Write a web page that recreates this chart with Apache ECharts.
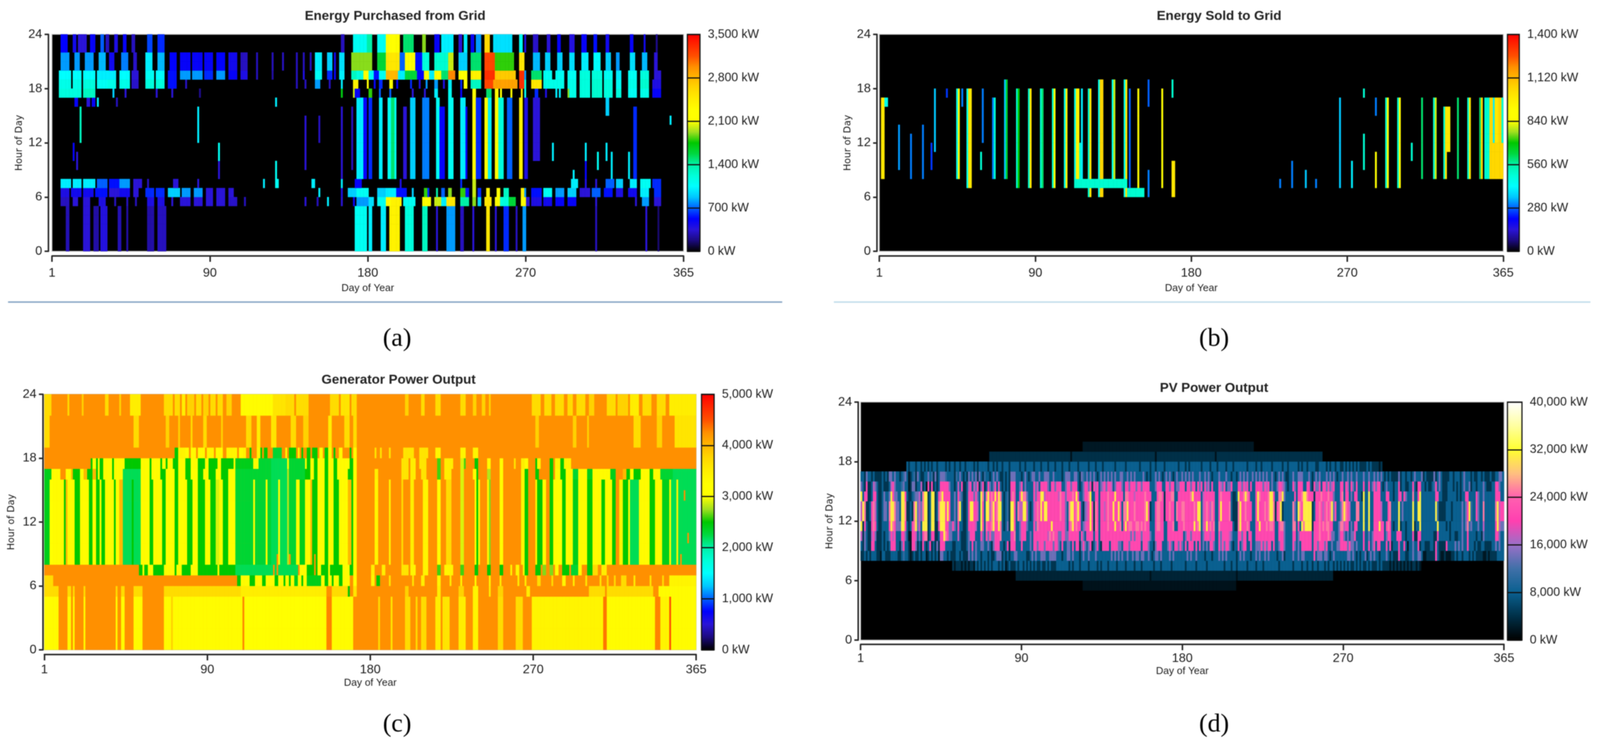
<!DOCTYPE html>
<html>
<head>
<meta charset="UTF-8">
<title>Energy heat maps</title>
<script src="https://cdn.jsdelivr.net/npm/echarts@6/dist/echarts.min.js"></script>
<style>
body { margin: 0; padding: 0; background: #fff; overflow: hidden; }
#main { width: 100%; height: 1927px; filter: blur(1px); }
</style>
</head>
<body>
<div id="main"></div>
<script>
// axis labels
var dayTickLabels = ['1', '90', '180', '270', '365'];
var days = [];
for (var n = 1; n <= 365; n++) days.push(n);
var hours = [];
for (var m = 0; m < 24; m++) hours.push(m);

// colour ramps
var rainbowRamp = ['#000000','#1c0a80','#2a14d8','#0000ff','#0060ff','#00c8ff','#00ffff','#00ffd8','#00f0a8','#00d840','#00c800','#a0e020','#ffff00','#ffff00','#ffee00','#ffd800','#ffb800','#ff9000','#ff5000','#ff2800','#ff0000'];
var pvRamp = ['#000000','#003048','#0a6090','#4070a8','#9a70c8','#ff40b0','#ff60b0','#ffc080','#ffff30','#ffffa0','#ffffff'];

// Energy purchased from grid: [first day, last day, kW] for each block of hours
var boughtH22 = [[6,9,520],[13,14,450],[16,20,350],[23,25,500],[29,30,700],[32,33,300],[37,38,400],[42,43,500],[47,48,300],[56,58,650],[62,65,600],[168,169,300],[175,182,1100],
  [183,185,1400],[189,193,1100],[194,201,2200],[204,209,1500],[215,216,1900],[222,224,500],[226,232,1000],[236,237,350],[239,240,1000],[243,244,500],[246,248,800],[251,253,2600],[256,266,950],[271,272,1100],[274,274,400],[279,281,320],[287,288,350],[293,294,500],[300,302,380],[307,309,500],[314,315,550],[321,322,450],[335,336,500],[343,343,450],[350,350,200]];
var boughtH20 = [[6,10,800],[14,16,800],[20,24,800],[28,31,850],[34,36,450],[41,44,750],[48,49,320],[55,58,1000],[62,65,850],[69,72,520],[75,80,500],[82,87,500],[89,93,500],[96,100,520],[103,107,450],[110,113,300],[119,119,300],[128,128,300],[134,134,300],[142,142,300],[146,146,300],[150,150,300],[153,156,1000],[160,162,900],[164,164,450],[167,169,950],[174,182,1900],
  [183,185,1900],[189,193,1600],[194,201,2500],[202,204,700],[205,210,2200],[211,214,550],[215,218,1200],[222,229,1250],[230,232,2000],[236,240,900],[243,248,1500],[251,256,3200],[257,267,1800],[271,273,2500],[279,282,850],[286,288,900],[293,295,900],[300,302,950],[307,310,1000],[314,317,1050],[321,323,900],[327,328,800],[335,337,950],[342,344,850],[349,350,350]];
var boughtH19 = [[5,11,1050],[13,17,1050],[19,25,1050],[27,32,1000],[33,37,1000],[40,45,1050],[47,50,350],[55,59,1100],[61,65,1050],[68,72,550],[75,80,800],[82,87,800],[89,93,600],[96,100,800],[103,107,500],[110,113,400],[119,119,300],[128,128,250],[142,142,300],[146,146,400],[153,156,1100],[160,162,600],[164,164,500],[167,169,1000],[174,177,1300],[177,180,1200],[181,183,2200],
  [184,186,1100],[187,189,550],[190,193,1100],[194,200,2800],[201,204,1000],[205,211,1600],[212,215,500],[216,218,2200],[219,221,1000],[222,225,2200],[226,229,1500],[230,233,3000],[236,240,2200],[243,248,2400],[251,256,3300],[257,268,2700],[271,273,3300],[274,274,800],[278,283,1500],[285,289,1100],[292,296,1100],[299,303,1100],[306,311,1200],[313,318,1200],[320,324,1100],[327,329,1000],[334,338,1100],[341,345,1200],[349,352,350]];
var boughtH18 = [[5,11,1150],[13,17,1150],[19,25,1200],[27,32,1100],[33,37,1150],[40,45,1150],[47,50,320],[55,59,1200],[61,65,1200],[68,72,550],[78,78,300],[142,142,300],[147,147,300],[153,155,800],[161,161,300],[168,168,1000],[175,177,2400],
  [183,183,2200],[187,187,500],[190,191,600],[196,197,2300],[200,200,500],[208,208,600],[213,213,400],[217,217,800],[222,223,800],[227,227,400],[230,231,1000],[237,237,600],[239,240,2200],[243,248,1300],[251,255,3200],[256,269,2900],[271,273,3300],[274,274,1200],[278,283,2500],[285,296,1150],[299,303,1150],[306,311,1200],[313,318,1250],[320,324,1200],[327,329,1100],[334,338,1150],[341,345,1250],[348,352,400]];
var boughtH17 = [[5,11,1200],[12,17,1200],[19,25,1300],[36,36,900],[43,43,350],[61,61,350],[70,70,350],[86,86,200],[168,168,1700],[175,175,2000],[176,178,500],
  [184,185,1800],[190,190,700],[196,196,700],[209,209,350],[216,216,350],[222,223,1000],[230,231,1100],[237,237,500],[244,245,2300],[252,254,1500],[257,258,2300],[260,260,2100],[266,266,2200],[272,272,2500],[274,274,1100],[280,281,600],[286,286,400],[292,292,1000],[294,294,1000],[299,299,1900],[300,303,1150],[306,311,1200],[313,318,1250],[320,324,1200],[327,329,1200],[334,338,1100],[341,345,1150],[348,352,500]];
var boughtH7 = [[6,11,1000],[13,17,1000],[19,25,1000],[27,32,700],[34,39,550],[40,45,800],[48,52,350],[56,56,300],[71,73,350],[85,85,350],[123,123,1000],[130,131,1100],[151,152,1000],[168,168,1000],[176,179,500],
  [202,202,400],[237,237,600],[244,245,2000],[301,304,1000],[309,309,400],[315,315,350],[321,325,700],[327,330,900],[335,338,1000],[341,346,1100],[348,352,600]];
var boughtH6 = [[6,10,400],[12,17,450],[19,24,450],[26,32,550],[34,39,350],[40,45,450],[48,50,350],[55,59,600],[61,65,600],[68,74,900],[76,80,800],[83,87,800],[90,93,350],[96,100,350],[103,105,350],[155,155,1000],[168,168,400],[172,176,900],[177,183,1100],
  [189,193,900],[194,199,1000],[200,205,550],[209,209,900],[216,217,1800],[218,218,600],[223,223,1400],[226,227,700],[230,231,1900],[237,239,1800],[240,241,550],[244,245,2000],[247,248,600],[252,253,2400],[258,259,2300],[262,264,1300],[272,273,2400],[274,274,800],[278,283,550],[285,289,1100],[292,296,800],[299,303,900],[306,311,350],[313,317,700],[320,324,550],[327,330,400],[334,338,450],[341,345,1000],[349,352,600]];
var boughtH5 = [[6,10,300],[13,15,350],[19,22,350],[28,31,400],[37,37,300],[44,44,300],[49,49,300],[56,59,400],[62,65,400],[70,70,350],[75,80,350],[83,87,350],[90,93,350],[96,100,350],[103,107,320],[112,112,300],[147,147,350],[154,154,300],[160,160,1000],[168,168,350],[175,175,500],[177,183,800],
  [184,186,950],[189,193,1100],[194,196,2300],[197,202,2400],[204,210,1100],[215,219,2200],[222,225,2000],[226,228,1000],[229,233,2500],[237,241,1400],[244,245,1900],[247,248,900],[251,254,2500],[257,259,2300],[260,264,1200],[265,268,1600],[272,274,2100],[275,276,350],[278,283,400],[285,289,450],[292,296,500],[299,303,500],[315,315,350],[338,338,350],[342,345,800],[349,352,350]];
var boughtH0 = [[9,10,280],[19,22,350],[25,27,250],[29,32,380],[39,40,280],[44,44,250],[56,59,250],[62,66,300],[176,182,1100],
  [184,185,1000],[191,193,1000],[196,201,2400],[205,209,1200],[215,217,1300],[223,223,350],[229,233,800],[237,238,300],[244,244,350],[252,253,2500],[257,257,350],[262,264,600],[269,269,300],[273,274,800],[315,315,300],[344,344,350],[351,351,150]];
// midday stripes and the short marks: [first day, last day, from hour, to hour, kW]
var boughtMarks = [[14,15,16,17,500],[17,17,12,16,1300],[13,13,10,12,500],[15,15,9,11,350],[21,22,16,17,350],[24,25,16,17,500],[27,27,16,17,1000],[38,38,16,17,300],[85,85,12,16,1000],[97,97,9,12,1100],[97,97,8,10,350],[130,130,16,17,1000],[130,130,7,10,1100],[147,147,9,15,350],[155,155,12,15,300],[168,168,8,16,350],[174,174,9,16,300],[177,180,8,17,1000],[181,182,8,17,500],
  [184,185,8,17,600],[190,191,8,17,1000],[195,196,8,17,1100],[197,198,8,17,1500],[199,199,8,17,1100],[204,205,8,16,350],[208,210,8,17,900],[215,218,8,17,750],[223,224,8,17,1100],[225,227,8,16,500],[230,232,8,17,1100],[237,239,8,17,1000],[240,240,8,16,500],[244,245,8,17,2100],[246,248,8,17,600],[251,252,8,17,2300],[253,254,8,17,1000],[257,258,8,17,2200],[259,261,8,17,1200],[264,266,8,17,700],[271,272,8,17,2400],[279,282,10,17,350],[274,275,8,17,400],
  [290,290,10,12,1000],[309,309,10,12,1000],[321,321,10,12,1000],[316,316,9,11,1100],[324,324,8,11,1000],[334,334,8,11,1000],[337,338,8,16,600],[321,322,15,17,900],[358,358,14,15,1000],[309,309,8,10,500],[302,302,8,9,1000]];

// Energy sold to grid: [first day, last day, from hour, to hour, kW]
var soldStripes = [[2,3,8,17,1000],[4,5,16,17,450],[12,12,9,14,320],[19,19,8,13,300],[26,26,8,14,300],[31,31,9,12,250],[33,33,11,18,350],[40,40,17,18,250],
  [46,46,8,18,450],[47,47,8,18,900],[49,49,16,18,300],[52,52,7,18,450],[53,54,7,18,1000],[60,60,9,11,500],[61,61,12,18,300],[67,67,8,17,300],[68,68,8,17,500],
  [74,74,8,19,350],[75,75,8,19,650],[81,81,7,18,500],[82,82,7,18,700],[88,88,7,18,500],[89,89,7,18,1000],[95,95,7,18,500],[96,96,7,18,600],[102,102,7,18,500],[103,103,7,18,900],[109,109,7,18,450],[110,110,7,18,950],
  [115,115,7,18,450],[116,117,7,18,950],[118,118,7,12,500],[119,119,7,18,400],[123,123,6,18,500],[124,124,6,18,1000],[129,129,6,19,450],[130,131,6,19,1050],[137,137,7,19,450],[138,138,7,19,800],[144,144,6,19,450],[145,145,6,19,1000],[147,147,7,18,280],[152,152,6,18,900],[158,158,16,19,280],[158,158,6,9,300],[166,166,7,18,900],[172,172,17,19,500],[172,173,6,10,1000],[115,145,7,8,500],[146,155,6,7,500],
  [235,235,7,8,300],[242,242,7,10,300],[250,250,7,9,350],[256,256,7,8,300],[270,270,7,17,350],[277,277,7,10,400],[284,284,9,13,500],[284,284,17,18,500],[291,291,7,11,850],[291,291,15,17,300],[297,297,7,17,500],[298,298,7,17,850],[304,304,7,17,500],[305,305,7,17,850],[312,312,10,12,500],[318,318,8,17,600],[325,325,8,17,500],[326,326,8,17,800],
  [331,331,8,16,500],[332,334,11,16,1000],[332,332,8,11,1000],[339,339,8,17,600],[345,345,8,17,500],[346,346,8,17,1000],[352,352,8,17,600],[353,353,8,17,1050],[355,357,8,17,500],[358,359,8,17,1050],[360,360,12,17,400],[360,362,8,12,1050],[361,363,12,17,1000],[363,365,8,17,1050],[365,365,12,17,500]];

// Generator output: orange base level and [first day, last day, kW] for each block of hours
var genH22 = [[1,4,3700],[14,14,3700],[22,22,3800],[35,36,3700],[43,43,3800],[49,54,3500],[68,72,3700],[74,76,3700],[78,79,3500],[81,84,3800],[86,88,3700],[90,92,3800],[94,96,3700],[98,100,3700],[103,105,3800],[111,128,3300],[129,135,3600],[136,140,3700],[142,148,3700],[161,165,3700],[167,171,3600],[173,175,3700],
  [203,204,3800],[212,213,3700],[220,222,3700],[234,236,3700],[241,242,3800],[246,247,3800],[250,250,3800],[274,278,3700],[281,284,3700],[287,291,3700],[294,296,3700],[299,303,3700],[306,308,3800],[316,320,3700],[322,327,3800],[329,333,3500],[336,340,3700],[344,348,3700],[351,365,3500]];
var genH19 = [[1,3,3700],[51,53,3700],[69,70,3800],[76,76,3800],[83,83,3700],[90,91,3700],[100,100,3800],[114,116,3700],[120,121,3500],[128,130,3600],[139,141,3700],[146,148,3800],[160,161,3500],[169,171,3700],[174,175,3700],
  [276,277,3800],[297,298,3800],[305,305,3800],[331,334,3700],[344,346,3800],[354,365,3600]];
var genH18 = [[74,75,2500],[76,79,3400],[80,81,3300],[83,85,3300],[87,90,3300],[92,95,3400],[97,100,3300],[103,108,3400],[110,111,3300],[112,113,3400],[116,116,2500],[120,121,3400],[122,122,2500],[124,125,2500],[129,133,2300],[138,141,2500],[145,145,2500],[148,149,2500],[151,153,2500],[158,159,2500],[163,163,2500],[166,167,3300],[172,172,2500],[174,175,3300],[136,136,3300],[143,143,3300],[155,156,3300],[160,161,3300],
  [186,186,3600],[189,189,3600],[194,194,3600],[202,207,3600],[211,215,3600],[220,222,3400],[234,236,3400],[241,243,3400]];
var genH17 = [[27,27,2500],[28,29,3300],[30,30,2500],[31,31,3300],[32,33,2500],[34,38,3300],[39,39,2500],[40,45,3300],[46,51,2500],[52,54,2500],[55,59,3300],[60,60,2500],[61,65,3300],[66,66,2500],[67,68,3300],[69,69,2500],[70,72,3300],[73,75,2500],[76,79,3300],[80,82,2500],[83,86,3300],[87,90,2500],[91,92,3300],[93,97,2500],[98,99,3300],[100,106,2500],[107,107,3300],[108,117,2400],[118,120,3300],[121,127,2300],[128,136,2200],[137,137,3300],[138,146,2300],[147,147,3300],[148,149,2500],[150,151,3300],[152,153,2500],[154,157,3300],[158,159,2500],[160,162,3300],[163,164,2500],[165,171,3300],[172,173,2500],[174,175,3300],
  [201,204,3600],[206,208,3500],[211,214,3600],[221,222,2600],[225,229,3500],[234,235,2900],[236,236,2600],[242,243,2500],[249,250,3300],[256,257,3300],[264,264,3600],[268,269,3500],[270,271,3300],[276,276,2500],[277,278,3400],[284,285,2500],[287,289,3400],[290,291,2500],[292,295,3400]];
var genH16 = [[1,4,2400],[5,9,3300],[10,12,4250],[13,15,3300],[16,16,4000],[17,20,2500],[21,22,3300],[23,24,4000],[25,27,2500],[28,29,4000],[30,30,2500],[31,31,3300],[32,33,2500],[34,38,3300],[39,39,2500],[40,44,3300],[45,54,2200],[55,59,3300],[60,60,2500],[61,65,3300],[66,68,2500],[69,73,3000],[74,75,2500],[76,79,3300],[80,82,2500],[83,86,3000],[87,89,2500],[90,92,3300],[93,96,2500],[97,99,3000],[100,103,2500],[104,107,3000],[108,127,2300],[128,136,2200],[137,137,2800],[138,146,2300],[147,149,2500],[150,151,3300],[152,153,2500],[154,157,3300],[158,159,2500],[160,162,3300],[163,164,2500],[165,170,3300],[171,173,2500],[174,175,3300],
  [186,187,3500],[201,204,3600],[206,208,3500],[212,214,3600],[221,222,2600],[225,228,3500],[234,235,2900],[241,242,3300],[243,243,2500],[249,250,2800],[256,257,3300],[268,270,3400],[270,271,2500],[276,277,2500],[284,285,2500],[287,289,3300],[290,292,2500],[293,296,3300],[297,299,2300],[300,304,3300],[305,307,2400],[308,312,3300],[313,317,3300],[318,320,2400],[325,326,4000],[327,328,2500],[329,330,3000],[331,334,2500],[335,339,3300],[340,341,2500],[342,345,3300],[346,352,2300],[353,365,2200]];
var genH8 = [[1,175,3300],[1,3,2400],[4,5,3000],[12,12,2500],[13,13,4000],[18,20,2500],[26,27,2500],[30,31,2500],[33,34,2500],[40,40,2500],[43,44,4000],[45,54,2200],[50,50,2500],[60,61,2500],[62,62,3000],[67,68,2500],[69,72,3000],[74,75,2500],[76,78,3000],[81,83,2500],[84,86,3000],[87,90,2500],[91,93,3000],[94,96,2500],[97,98,2900],[101,103,2500],[104,107,3000],[108,117,2300],[118,118,3000],[119,127,2300],[128,136,2200],[125,125,3000],[132,132,3000],[137,137,2800],[138,141,2300],[142,143,3300],[144,146,2400],[148,148,3300],[150,150,4000],[151,153,2500],[154,157,3300],[158,159,2500],[160,162,3300],[163,165,2500],[166,170,3300],[171,172,4000],[173,173,2500],[174,175,3300],
  [186,187,3400],[194,194,3400],[201,201,3700],[206,207,3500],[213,215,3400],[221,222,3300],[226,228,3700],[234,235,2900],[242,242,3000],[243,243,2500],[244,244,3300],[249,249,3300],[250,250,2700],[256,257,3300],[268,269,3400],[270,271,2500],[276,276,3400],[277,279,2500],[280,281,3300],[284,285,2500],[286,290,3200],[291,292,2500],[293,296,3300],[297,299,2400],[300,304,3300],[305,307,2500],[308,312,3300],[313,314,2500],[315,318,3300],[319,320,2500],[323,324,3400],[325,327,2500],[328,328,3300],[329,333,2200],[334,339,3300],[340,342,2500],[343,346,3300],[347,350,2400],[351,351,3300],[352,354,2200],[355,355,3400],[356,365,2200]];
var genH7 = [[54,55,2500],[56,56,3300],[57,58,2500],[59,61,3300],[62,67,2500],[68,73,3300],[74,74,2500],[75,77,3300],[78,82,2500],[83,86,3300],[87,97,2500],[98,98,3300],[99,107,2500],[108,143,2200],[144,147,3300],[148,153,2500],[154,155,3300],[156,159,2500],[160,160,3300],[161,167,2500],[168,171,3300],[172,173,2500],[174,175,3300],
  [184,185,3500],[190,191,3500],[201,204,3600],[206,208,3400],[213,215,3400],[221,222,2600],[225,229,3400],[234,235,2600],[242,243,2500],[249,250,2500],[256,257,2500],[262,262,3400],[265,266,3400],[269,269,3400],[270,271,2500],[276,278,2500],[280,281,2700],[284,285,2700],[287,288,3300],[291,294,2500],[296,299,2300],[300,301,3300],[305,307,2500],[308,310,3700],[313,315,3500]];
var genH6 = [[1,5,3700],[109,110,2500],[111,115,3300],[116,118,2500],[119,122,3300],[123,124,2500],[125,129,3300],[130,131,2500],[132,134,3300],[135,135,2500],[136,137,3300],[138,138,2500],[139,140,3300],[141,142,2400],[143,144,3300],[145,145,2500],[146,147,3300],[148,155,2400],[156,157,3300],[158,159,2500],[160,161,3300],[162,162,2500],[163,165,3300],[166,167,2500],[168,171,3300],[172,173,2500],[174,175,3300],
  [184,185,3400],[187,188,2500],[194,194,3600],[207,207,3600],[212,213,3500],[221,222,3400],[228,228,3500],[234,234,3400],[242,242,3300],[250,250,3400],[256,256,3500],[266,266,3500],[270,270,3500],[277,278,3700],[285,285,3700],[291,292,3400],[297,297,3500],[304,304,3600],[312,312,3600],[316,316,3700],[320,320,3700],[324,326,3700],[331,331,3500],[340,340,3600],[347,347,3700],[351,365,3400]];
var genH5 = [[1,8,3700],[14,15,3700],[17,17,3700],[23,23,3700],[41,41,3700],[44,45,3700],[51,55,3700],[68,110,3700],[111,158,3500],[162,170,3700],[171,172,2500],[173,175,3600],
  [203,204,3800],[221,222,3500],[233,235,3800],[241,243,3400],[250,250,3500],[255,257,3800],[271,272,3500],[306,314,3700],[316,341,3700],[345,365,3300]];
var genH0 = [[1,8,3300],[14,15,3300],[17,17,3300],[23,23,3300],[41,41,3300],[44,45,3300],[51,55,3300],[68,71,3300],[72,72,3800],[73,111,3300],[112,112,4300],[113,158,3200],[159,161,4300],[162,173,3300],
  [188,188,3700],[195,195,3600],[203,205,3700],[209,209,3700],[212,214,3700],[220,222,3500],[224,227,3600],[233,236,3500],[241,243,3400],[255,257,3700],[265,268,3700],[274,313,3400],[314,315,4350],[316,342,3300],[343,345,4300],[346,350,3400],[351,351,4500],[352,365,3300]];
var genDots = [[131,131,7,9,0],[129,129,7,8,0],[138,138,8,9,0],[143,143,7,8,0],[152,152,7,9,0],[172,173,5,7,0],[359,359,14,15,0],[361,361,10,11,0],[357,357,8,9,0]];

// PV output, one digit per day (day 1 first), digit = level in pvLevels
var pvLevels = [0, 2000, 4500, 8000, 11000, 14000, 17500, 21000, 25000, 31000];
var pvH16 = '3325332322 2232325535 3323453123 4253223353 4252355543 3332435323 2535352532 4332353532 2323255533 3235323553 3533555335 3333235553 3553254353 5353235353 5353533553 3535353333 5323233535 3235353235 335 3535353335 3353532333 5333533233 2353535335 3535353533 5323535322 3353355533 3532353533 3535353233 5335353353 3353353353 5353232322 2252332332 3533352322 2252353222 2332333235 3332322332 322232233553';
var pvH15 = '5327223653 2232223675 3334533125 5233623172 7232377777 5332363722 3673657257 2375357373 2323277733 5735333375 6377775377 5777335775 7773235775 7276735675 7763577753 7757775775 7777333577 7337757735 577 7377577375 7375637333 7657355733 3775767373 3777757673 5335776532 3375377733 7732755737 7575673337 7376375373 3373373575 7732353332 3372332233 7327733232 2347353222 3332323235 3352332333 532223377533';
var pvH14 = '9377223773 2235335975 5339973223 4556389923 9923789777 7335375422 3777575398 3897879798 3234278733 7988533375 7799677777 7768775777 8797335778 9337737777 8777977773 8877767777 7877733378 8727778833 777 7777897777 3677777733 7877777322 3977898733 3798777789 9733889533 3337377899 8777277787 7787753337 8377353773 3293393377 7733377332 3377375333 8337933333 3337733222 3333323233 7733337533 533333377733';
var pvH12 = '6982237863 2235538998 5539982232 8956589923 9923899979 7335389322 3799776397 3996897899 3234299738 6699632367 8797997777 7778775389 9789732567 9728737767 8779779738 8977787777 7897233788 7727787738 778 8777778799 3678768733 7977778322 2897787773 3797778789 9827892333 3385398799 9992377876 7878957335 8987633388 3393393377 7763337833 3393533333 9339933333 3339422223 3323333353 5794337533 833333389677';
var pvH11 = '9273227873 2233337987 5559973237 8956399923 9922799977 5575373322 3777763397 3877897798 3235299733 5777533375 8777777797 7777775378 9787735677 9728737777 8777977837 9788778878 7877333788 7733777833 777 8777779789 3679787833 8777777732 2897778733 3779777878 8733788533 3388373989 9992777878 7887733358 8677353773 3393393377 7977378732 3392332333 9233933333 3333933332 3233333353 5845333533 633333379655';
var pvH10 = '6253226752 2232335767 3337753117 7635378823 7722377987 5533363222 3577733375 3757557778 3333377833 5777335377 7777776878 7755775577 7777375377 7737737777 7777777777 7775757775 7777533777 7733777777 777 3577577777 3577767733 7577776533 3775773773 3777777777 7733777533 3377357777 7773777877 7787553357 7535355733 3373353577 7777357733 3777332333 7227733333 3322733333 3233223353 3733332332 533333377533';
var pvH9 = '3253227732 2232323777 3325733217 7523273237 2325277733 3322333222 3537353355 3353257773 3237277733 3733335377 5777577775 7753733553 7377257535 7235732777 7377775537 7757777773 7775332577 7333575377 575 3737773737 3535377533 7575775323 3735773373 3555757577 3733577533 3375353777 7773775777 5733533557 7775755353 3373373573 7733373723 3373373133 5337233222 3327322227 3333535353 3733323223 322223353533';
var pvH8 = '2232323332 2133222333 3223433212 3223233123 2323155332 3222332322 2535353323 3323223555 2323233553 3333223535 3355533555 5333233553 5333235335 3335333333 3353535353 3533535535 5335323553 5333353533 333 3353533533 3323332333 5353533333 2353533323 3535335353 3332335233 3353353553 3333735553 5532353333 3335535323 2335235353 3233353232 2273332233 5335531122 2227321121 1122323323 3323232222 112122223333';
// these two start later in the year: day 27 and day 53
var pvH17 = '3233323323 2323233233 3323233233 2332333323 2333332332 3233233323 3333233233 3323332333 2333233323 3323333233 3332333233 3233333323 3333233333 3323333323 3233332333 3333233323 2333333233 3323332333 3233323333 3332333323 3233333233 3332332333 3323233233 3322333323 2332332232 3232323222 2323222212';
var pvH7 = '2122212121 2213232323 2323332323 1232223233 2323232322 3223232223 3333332323 3323333233 3323233323 3332333323 3332333233 3333233323 3333233333 3323333323 3333233333 3333233323 3233333233 3323332333 3333323333 3332333323 3233233233 3232332323 2323232232 3232232322 2323222212 1212121212 122121';
// dim edges of the summer days: [first day, last day, from hour, to hour, kW]
var pvEdges = [[74,262,18,19,4000],[127,223,19,20,2000],[89,268,6,7,3000],[127,213,5,6,1500],[120,120,18,19,1500],[168,168,18,19,1500],[202,202,18,19,1500],[165,165,6,7,1500],[214,214,6,7,1500]];

function emptyGrid(base) {
    var grid = [];
    for (var d = 0; d < 365; d++) {
        grid.push([]);
        for (var h = 0; h < 24; h++) grid[d].push(base);
    }
    return grid;
}
function paintBlock(grid, fromHour, toHour, runs) {
    runs.forEach(function (r) {
        for (var d = r[0]; d <= r[1]; d++)
            for (var h = fromHour; h < toHour; h++) grid[d - 1][h] = r[2];
    });
}
function paintMarks(grid, marks) {
    marks.forEach(function (r) {
        paintBlock(grid, r[2], r[3], [[r[0], r[1], r[4]]]);
    });
}
function paintDigits(grid, fromHour, toHour, digits, firstDay) {
    digits.replace(/ /g, '').split('').forEach(function (c, i) {
        var d = firstDay + i;
        if (d > 365) return;
        paintBlock(grid, fromHour, toHour, [[d, d, pvLevels[+c]]]);
    });
}
function toCells(grid) {
    var cells = [];
    grid.forEach(function (col, d) {
        col.forEach(function (v, h) {
            if (v > 0) cells.push([d, h, v]);
        });
    });
    return cells;
}

var bought = emptyGrid(0);
paintBlock(bought, 22, 24, boughtH22);
paintBlock(bought, 20, 22, boughtH20);
paintBlock(bought, 19, 20, boughtH19);
paintBlock(bought, 18, 19, boughtH18);
paintBlock(bought, 17, 18, boughtH17);
paintBlock(bought, 7, 8, boughtH7);
paintBlock(bought, 6, 7, boughtH6);
paintBlock(bought, 5, 6, boughtH5);
paintBlock(bought, 0, 5, boughtH0);
paintMarks(bought, boughtMarks);

var sold = emptyGrid(0);
paintMarks(sold, soldStripes);

var gen = emptyGrid(4250);
paintBlock(gen, 22, 24, genH22);
paintBlock(gen, 19, 22, genH19);
paintBlock(gen, 18, 19, genH18);
paintBlock(gen, 17, 18, genH17);
paintBlock(gen, 16, 17, genH16);
paintBlock(gen, 8, 16, genH8);
paintBlock(gen, 7, 8, genH7);
paintBlock(gen, 6, 7, genH6);
paintBlock(gen, 5, 6, genH5);
paintBlock(gen, 0, 5, genH0);
paintMarks(gen, genDots);

var pv = emptyGrid(0);
paintDigits(pv, 17, 18, pvH17, 27);
paintDigits(pv, 16, 17, pvH16, 1);
paintDigits(pv, 15, 16, pvH15, 1);
paintDigits(pv, 14, 15, pvH14, 1);
paintDigits(pv, 12, 14, pvH12, 1);
paintDigits(pv, 11, 12, pvH11, 1);
paintDigits(pv, 10, 11, pvH10, 1);
paintDigits(pv, 9, 10, pvH9, 1);
paintDigits(pv, 8, 9, pvH8, 1);
paintDigits(pv, 7, 8, pvH7, 53);
paintMarks(pv, pvEdges);

// layout is measured on the 4183 wide reference, the window may be narrower
var kx = window.innerWidth / 4183;

var panels = [
    { title: 'Energy Purchased from Grid', titleX: 1028, titleY: 20, caption: '(a)', capX: 1033, capY: 830,
      l: 136, t: 88, w: 1651, h: 555, barL: 1797, barW: 33, max: 3500, step: 700, ramp: rainbowRamp, grid: bought,
      bg: '#000', xOff: 12, yOff: 9, labelGap: 28, nameGap: 70, yNameGap: 62 },
    { title: 'Energy Sold to Grid', titleX: 3182, titleY: 20, caption: '(b)', capX: 3169, capY: 830,
      l: 2299, t: 88, w: 1631, h: 555, barL: 3941, barW: 31, max: 1400, step: 280, ramp: rainbowRamp, grid: sold,
      bg: '#000', xOff: 12, yOff: 6, labelGap: 28, nameGap: 70, yNameGap: 62 },
    { title: 'Generator Power Output', titleX: 1037, titleY: 951, caption: '(c)', capX: 1033, capY: 1817,
      l: 116, t: 1009, w: 1704, h: 654, barL: 1834, barW: 33, max: 5000, step: 1000, ramp: rainbowRamp, grid: gen,
      bg: '#ff9000', xOff: 12, yOff: 4, labelGap: 23, nameGap: 60, yNameGap: 68 },
    { title: 'PV Power Output', titleX: 3169, titleY: 972, caption: '(d)', capX: 3169, capY: 1817,
      l: 2250, t: 1029, w: 1682, h: 609, barL: 3941, barW: 38, max: 40000, step: 8000, ramp: pvRamp, grid: pv,
      bg: '#000', xOff: 11, yOff: 6, labelGap: 20, nameGap: 56, yNameGap: 60 }
];

var textColor = '#1c1c1c';
var axisStyle = { color: '#2a2a2a', width: 4 };
var option = { animation: false, backgroundColor: '#fff', title: [], grid: [], xAxis: [], yAxis: [], visualMap: [], series: [],
    graphic: [
        { type: 'line', shape: { x1: 21 * kx, y1: 773, x2: 2045 * kx, y2: 773 }, style: { stroke: '#8fabc8', lineWidth: 4 } },
        { type: 'line', shape: { x1: 2180 * kx, y1: 773, x2: 4158 * kx, y2: 773 }, style: { stroke: '#c5dfec', lineWidth: 4 } }
    ] };

panels.forEach(function (p, i) {
    option.title.push({ text: p.title, left: p.titleX * kx, top: p.titleY, textAlign: 'center',
        textStyle: { fontFamily: 'Liberation Sans', fontSize: 34, fontWeight: 'bold', color: '#222' } });
    option.title.push({ text: p.caption, left: p.capX * kx, top: p.capY, textAlign: 'center',
        textStyle: { fontFamily: 'Liberation Serif', fontSize: 66, fontWeight: 'normal', color: '#000' } });

    // plot grid: hidden category axes carry the cells, value axes draw the visible scale
    var plotGrid = option.grid.length;
    option.grid.push({ left: p.l * kx, top: p.t, width: p.w * kx, height: p.h, show: true, backgroundColor: p.bg, borderColor: '#bbb', borderWidth: 2 });
    var catX = option.xAxis.length;
    option.xAxis.push({ type: 'category', gridIndex: plotGrid, data: days, show: false });
    option.xAxis.push({ type: 'value', gridIndex: plotGrid, min: 0, max: 360, interval: 90, position: 'bottom', offset: p.xOff,
        name: 'Day of Year', nameLocation: 'middle', nameGap: p.nameGap,
        nameTextStyle: { fontFamily: 'Liberation Sans', fontSize: 26, color: textColor },
        axisLine: { show: true, onZero: false, lineStyle: axisStyle },
        axisTick: { show: true, length: 15, lineStyle: axisStyle },
        axisLabel: { margin: p.labelGap, fontFamily: 'Liberation Sans', fontSize: 32, color: textColor, showMinLabel: true, showMaxLabel: true,
            formatter: function (v) { return dayTickLabels[v / 90]; } },
        splitLine: { show: false } });
    var catY = option.yAxis.length;
    option.yAxis.push({ type: 'category', gridIndex: plotGrid, data: hours, show: false });
    option.yAxis.push({ type: 'value', gridIndex: plotGrid, min: 0, max: 24, interval: 6, position: 'left', offset: p.yOff,
        name: 'Hour of Day', nameLocation: 'middle', nameGap: p.yNameGap,
        nameTextStyle: { fontFamily: 'DejaVu Sans', fontSize: 24, color: textColor },
        axisLine: { show: true, onZero: false, lineStyle: axisStyle },
        axisTick: { show: true, length: 10, lineStyle: axisStyle },
        axisLabel: { margin: 16, fontFamily: 'Liberation Sans', fontSize: 32, color: textColor },
        splitLine: { show: false } });

    // colour bar: the visualMap gradient with its own little kW axis over it
    var barGrid = option.grid.length;
    option.grid.push({ left: p.barL * kx, top: p.t, width: p.barW * kx, height: p.h, z: 6, show: true, backgroundColor: 'transparent', borderColor: '#111', borderWidth: 3 });
    option.xAxis.push({ type: 'value', gridIndex: barGrid, show: false, min: 0, max: 1 });
    option.yAxis.push({ type: 'value', gridIndex: barGrid, min: 0, max: p.max, interval: p.step, position: 'right', z: 6,
        axisLine: { show: false },
        axisTick: { show: true, length: 14, lineStyle: { color: '#111', width: 3 } },
        axisLabel: { margin: 20, fontFamily: 'Liberation Sans', fontSize: 31, color: textColor,
            formatter: function (v) { return v.toLocaleString('en-US') + ' kW'; } },
        splitLine: { show: true, lineStyle: { color: '#111', width: 3 } } });

    option.visualMap.push({ type: 'continuous', seriesIndex: i, min: 0, max: p.max, left: p.barL * kx, top: p.t, itemWidth: p.barW * kx, itemHeight: p.h,
        padding: 0, calculable: false, hoverLink: false, text: null, textStyle: { fontSize: 0 }, inRange: { color: p.ramp } });

    option.series.push({ type: 'heatmap', xAxisIndex: catX, yAxisIndex: catY, data: toCells(p.grid), progressive: 0, silent: true,
        itemStyle: { borderWidth: 0 }, emphasis: { disabled: true } });
});

var myChart = echarts.init(document.getElementById('main'));
myChart.setOption(option);
</script>
</body>
</html>
